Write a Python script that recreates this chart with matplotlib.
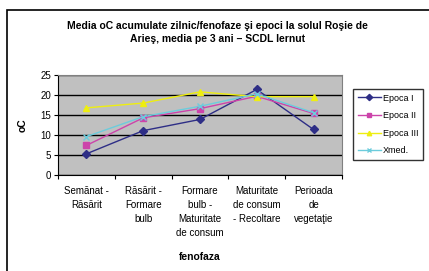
import matplotlib
matplotlib.use('Agg')
import matplotlib.pyplot as plt
from matplotlib.patches import Rectangle

plt.rcParams['font.family'] = ['Liberation Sans', 'DejaVu Sans']

categories = ['Semănat -\nRăsărit', 'Răsărit -\nFormare\nbulb', 'Formare\nbulb -\nMaturitate\nde consum',
              'Maturitate\nde consum\n- Recoltare', 'Perioada\nde\nvegetaţie']
epoca1 = [5.3, 11.1, 13.9, 21.4, 11.4]
epoca2 = [7.4, 14.3, 16.6, 19.7, 15.4]
epoca3 = [16.8, 18.0, 20.8, 19.6, 19.6]
xmed = [9.6, 14.6, 17.2, 20.3, 15.6]

series = [('Epoca I', epoca1, '#2E2E86', 'D'),
          ('Epoca II', epoca2, '#CC44AA', 's'),
          ('Epoca III', epoca3, '#EEEE10', '^'),
          ('Xmed.', xmed, '#6CCCDC', 'x')]

fig = plt.figure(figsize=(4.29, 2.71), dpi=100)
fig.patches.append(Rectangle((0.017, -0.02), 1.0, 0.983, transform=fig.transFigure,
                             fill=False, edgecolor='black', linewidth=1.2))

ax = fig.add_axes([0.135, 0.354, 0.662, 0.369])
ax.set_facecolor('#C0C0C0')
x = list(range(len(categories)))
for name, vals, col, mk in series:
    ax.plot(x, vals, color=col, marker=mk, markersize=4, linewidth=1.0, label=name)

ax.set_xlim(-0.5, len(categories) - 0.5)
ax.set_ylim(0, 25)
ax.set_yticks(range(0, 26, 5))
ax.yaxis.grid(True, color='black', linewidth=1.0)
ax.set_axisbelow(True)
ax.set_xticks([i - 0.5 for i in range(len(categories) + 1)])
ax.set_xticklabels([])
ax.set_xticks(x, minor=True)
ax.set_xticklabels(categories, minor=True, fontsize=7, linespacing=1.5, va='top')
ax.tick_params(axis='x', which='minor', length=0, pad=8)
ax.tick_params(axis='x', which='major', length=3, direction='out')
ax.tick_params(axis='y', labelsize=7, length=3, pad=2)
for s in ['top', 'right']:
    ax.spines[s].set_color('#808080')
ax.spines['left'].set_color('black')
ax.spines['bottom'].set_color('black')

ax.set_xlabel('fenofaza', fontsize=7.5, fontweight='bold', labelpad=10)
ax.set_ylabel('oC', fontsize=7.5, fontweight='bold', labelpad=9)

fig.text(0.508, 0.88, 'Media oC acumulate zilnic/fenofaze şi epoci la solul Roşie de\nArieş, media pe 3 ani – SCDL Iernut',
         ha='center', va='center', fontsize=7.5, fontweight='bold', linespacing=1.35)

leg = fig.legend(loc='upper left', bbox_to_anchor=(353 / 429, 1 - 89 / 271), fontsize=6.5,
                 frameon=True, fancybox=False, edgecolor='black', borderpad=0.5,
                 labelspacing=0.95, handlelength=2.6, handletextpad=0.2, borderaxespad=0,
                 markerscale=0.8)
leg.get_frame().set_linewidth(1.0)

fig.savefig('out.png', dpi=100)
